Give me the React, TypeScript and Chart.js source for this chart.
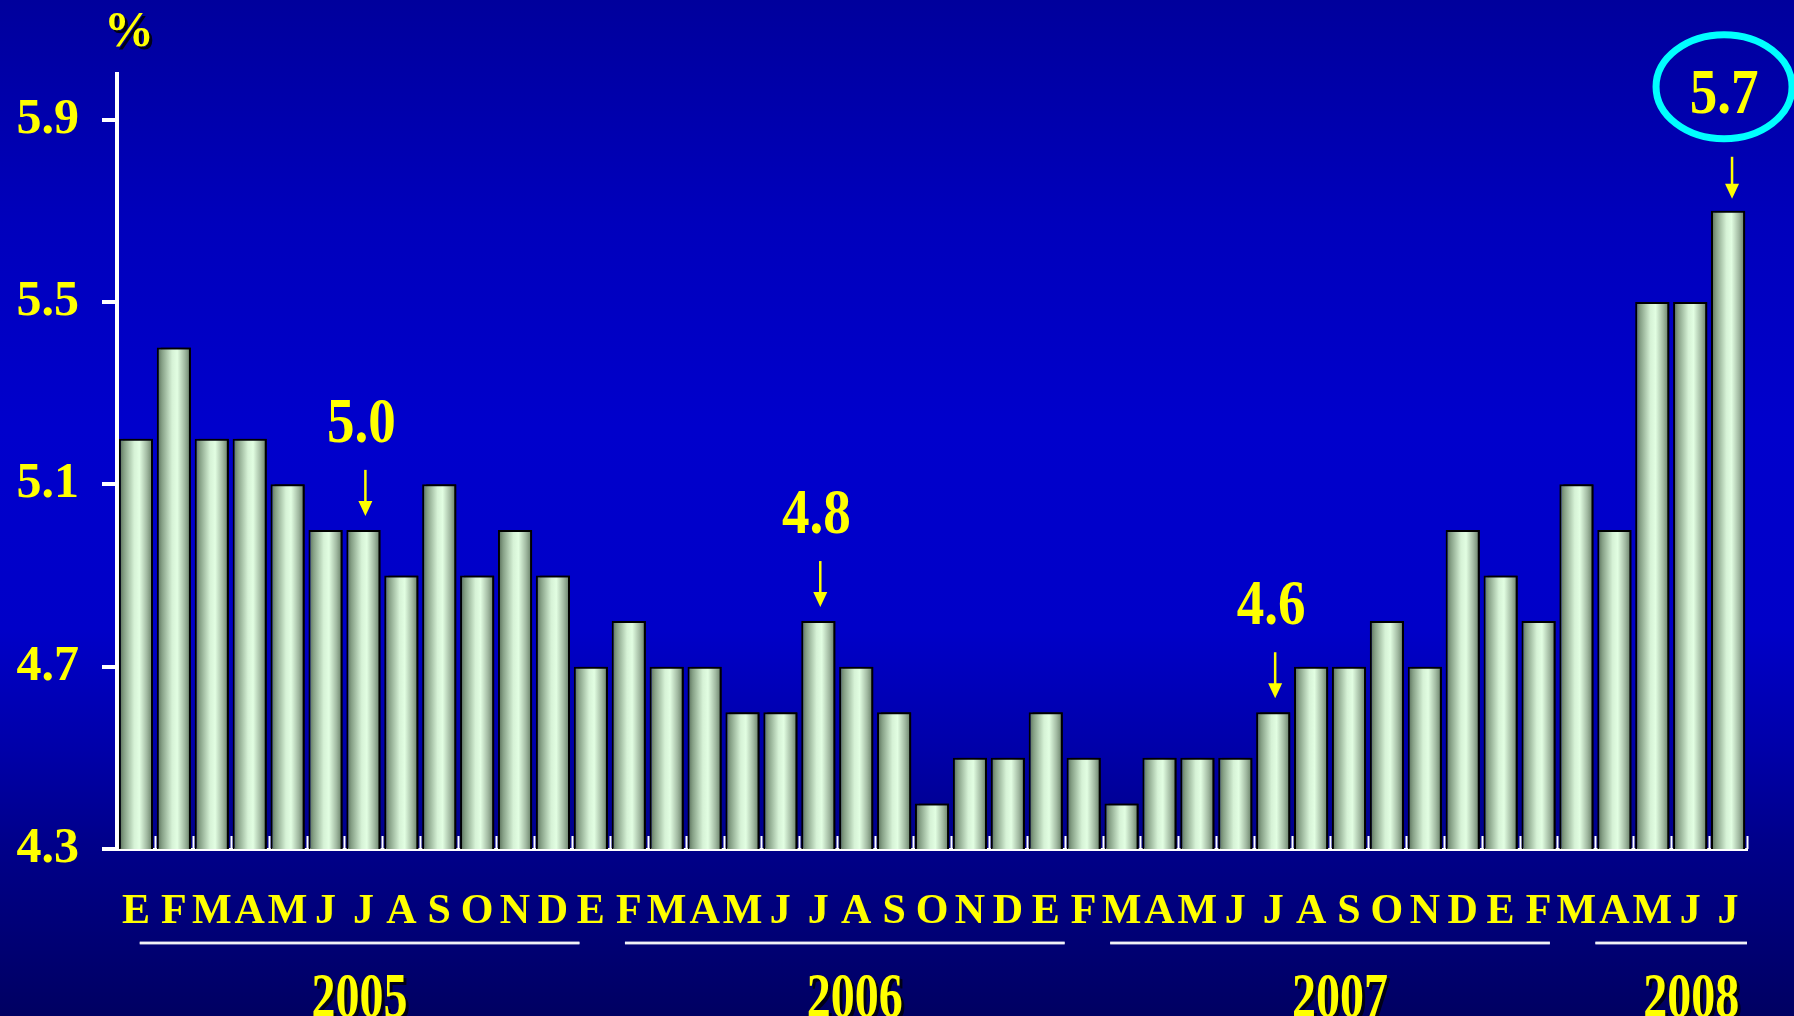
import { useEffect, useRef } from 'react';
import { Chart, registerables } from 'chart.js';

Chart.register(...registerables);

// ---------- data ----------
const months = [
  'E', 'F', 'M', 'A', 'M', 'J', 'J', 'A', 'S', 'O', 'N', 'D',
  'E', 'F', 'M', 'A', 'M', 'J', 'J', 'A', 'S', 'O', 'N', 'D',
  'E', 'F', 'M', 'A', 'M', 'J', 'J', 'A', 'S', 'O', 'N', 'D',
  'E', 'F', 'M', 'A', 'M', 'J', 'J',
];
const rates2005 = [5.2, 5.4, 5.2, 5.2, 5.1, 5.0, 5.0, 4.9, 5.1, 4.9, 5.0, 4.9];
const rates2006 = [4.7, 4.8, 4.7, 4.7, 4.6, 4.6, 4.8, 4.7, 4.6, 4.4, 4.5, 4.5];
const rates2007 = [4.6, 4.5, 4.4, 4.5, 4.5, 4.5, 4.6, 4.7, 4.7, 4.8, 4.7, 5.0];
const rates2008 = [4.9, 4.8, 5.1, 5.0, 5.5, 5.5, 5.7];
const rates = [...rates2005, ...rates2006, ...rates2007, ...rates2008];

const yTicks = [4.3, 4.7, 5.1, 5.5, 5.9];
const yMin = 4.3;
const yMax = 6.0;

const yearLabels = ['2005', '2006', '2007', '2008'];
const yearStarts = [0, 12, 24, 36];
const yearCounts = [12, 12, 12, 7];

const calloutIndices = [6, 18, 30];
const calloutLabels = ['5.0', '4.8', '4.6'];
const highlightIndex = 42;
const highlightLabel = '5.7';

const unitLabel = '%';

// ---------- styling ----------
const YELLOW = '#ffff00';
const SERIF = '"Liberation Serif", "Times New Roman", serif';
const BAR_PCT = 0.9;

function drawText(
  ctx: CanvasRenderingContext2D,
  text: string,
  x: number,
  y: number,
  size: number,
  sx: number,
  color: string,
  shadow: boolean
) {
  ctx.save();
  ctx.translate(x, y);
  ctx.scale(sx, 1);
  ctx.font = `bold ${size}px ${SERIF}`;
  ctx.textAlign = 'center';
  ctx.textBaseline = 'alphabetic';
  if (shadow) {
    ctx.fillStyle = '#000018';
    ctx.fillText(text, 3 / sx, 3);
  }
  ctx.fillStyle = color;
  ctx.fillText(text, 0, 0);
  ctx.restore();
}

function drawArrow(ctx: CanvasRenderingContext2D, x: number, y1: number, y2: number) {
  ctx.save();
  ctx.strokeStyle = YELLOW;
  ctx.fillStyle = YELLOW;
  ctx.lineWidth = 2.5;
  ctx.beginPath();
  ctx.moveTo(x, y1);
  ctx.lineTo(x, y2 - 12);
  ctx.stroke();
  ctx.beginPath();
  ctx.moveTo(x - 7, y2 - 15);
  ctx.lineTo(x + 7, y2 - 15);
  ctx.lineTo(x, y2);
  ctx.closePath();
  ctx.fill();
  ctx.restore();
}

const decorPlugin = {
  id: 'decor',
  beforeDatasetsDraw(chart: any) {
    const ctx = chart.ctx;
    ctx.save();
    ctx.shadowColor = '#000000';
    ctx.shadowOffsetX = 4;
    ctx.shadowOffsetY = 0;
    ctx.shadowBlur = 0;
  },
  afterDatasetsDraw(chart: any) {
    chart.ctx.restore();
  },
  afterDraw(chart: any) {
    const ctx: CanvasRenderingContext2D = chart.ctx;
    const xs = chart.scales.x;
    const ys = chart.scales.y;
    const area = chart.chartArea;
    const n = months.length;
    const catW = (area.right - area.left) / n;

    // inner tick marks at category boundaries
    ctx.save();
    ctx.strokeStyle = '#ffffff';
    ctx.lineWidth = 2;
    for (let i = 1; i <= n; i++) {
      const bx = Math.round(xs.getPixelForValue(i - 1) + catW / 2) + 0.5;
      ctx.beginPath();
      ctx.moveTo(bx, area.bottom);
      ctx.lineTo(bx, area.bottom - 13);
      ctx.stroke();
    }
    ctx.restore();

    // unit label
    drawText(ctx, unitLabel, area.left + 12, 46, 50, 1, YELLOW, true);

    // callouts with arrows
    calloutIndices.forEach((idx, k) => {
      const x = xs.getPixelForValue(idx);
      const top = ys.getPixelForValue(rates[idx]);
      drawArrow(ctx, x + 2, top - 60, top - 14);
      drawText(ctx, calloutLabels[k], x - 2, top - 88, 64, 0.86, YELLOW, false);
    });

    // highlighted last value
    {
      const x = xs.getPixelForValue(highlightIndex);
      const top = ys.getPixelForValue(rates[highlightIndex]);
      drawArrow(ctx, x + 4, top - 54, top - 12);
      ctx.save();
      ctx.strokeStyle = '#00ffff';
      ctx.lineWidth = 7;
      ctx.beginPath();
      ctx.ellipse(x - 4, top - 124, 68, 52, 0, 0, Math.PI * 2);
      ctx.stroke();
      ctx.restore();
      drawText(ctx, highlightLabel, x - 4, top - 98, 64, 0.86, YELLOW, false);
    }

    // year groups
    yearLabels.forEach((label, k) => {
      const s = yearStarts[k];
      const c = yearCounts[k];
      const drift = (s / 12) * 0.8;
      const u0 = s + 0.6 + drift;
      const u1 = Math.min(s + c + 0.2 + drift, n);
      const x0 = area.left + u0 * catW;
      const x1 = area.left + u1 * catW;
      ctx.save();
      ctx.strokeStyle = '#c8c8e0';
      ctx.lineWidth = 3;
      ctx.beginPath();
      ctx.moveTo(x0, 943);
      ctx.lineTo(x1, 943);
      ctx.stroke();
      ctx.strokeStyle = '#ffffff';
      ctx.lineWidth = 1.5;
      ctx.beginPath();
      ctx.moveTo(x0, 943);
      ctx.lineTo(x1, 943);
      ctx.stroke();
      ctx.restore();
      const shift = k === 0 ? 0 : k === 3 ? 20 : 10;
      drawText(ctx, label, (x0 + x1) / 2 + shift, 1017, 64, 0.75, YELLOW, true);
    });
  },
};

export default function App() {
  const canvasRef = useRef<HTMLCanvasElement | null>(null);

  useEffect(() => {
    document.body.style.margin = '0';
    const canvas = canvasRef.current;
    if (!canvas) return;

    const barFill = (c: any) => {
      if (c.type !== 'data') return '#d8f4d8';
      const chart = c.chart;
      const xs = chart.scales.x;
      const area = chart.chartArea;
      if (!xs || !area) return '#d8f4d8';
      const catW = (area.right - area.left) / months.length;
      const w = catW * BAR_PCT;
      const cx = xs.getPixelForValue(c.dataIndex);
      const g = chart.ctx.createLinearGradient(cx - w / 2, 0, cx + w / 2, 0);
      g.addColorStop(0, '#526852');
      g.addColorStop(0.15, '#86a086');
      g.addColorStop(0.45, '#d6f2d6');
      g.addColorStop(0.6, '#e2fee2');
      g.addColorStop(0.82, '#a2baa2');
      g.addColorStop(1, '#627a62');
      return g;
    };

    const chart = new Chart(canvas, {
      type: 'bar',
      data: {
        labels: months,
        datasets: [
          {
            data: rates,
            backgroundColor: barFill,
            borderColor: '#000000',
            borderWidth: 2,
            borderSkipped: 'start',
            barPercentage: BAR_PCT,
            categoryPercentage: 1,
          },
        ],
      },
      options: {
        animation: false,
        responsive: true,
        maintainAspectRatio: false,
        layout: { padding: { top: 74, right: 47, left: 0, bottom: 0 } },
        plugins: {
          legend: { display: false },
          tooltip: { enabled: false },
        },
        scales: {
          x: {
            z: 1,
            grid: { display: false },
            border: { display: true, color: '#ffffff', width: 3 },
            ticks: {
              color: YELLOW,
              font: { family: SERIF, weight: 'bold', size: 42 },
              maxRotation: 0,
              minRotation: 0,
              autoSkip: false,
              padding: 30,
            },
            afterFit(scale: any) {
              scale.height = 167;
            },
          },
          y: {
            z: 1,
            min: yMin,
            max: yMax,
            afterBuildTicks(scale: any) {
              scale.ticks = yTicks.map((v) => ({ value: v }));
            },
            grid: {
              drawOnChartArea: false,
              drawTicks: true,
              tickLength: 15,
              color: '#ffffff',
              lineWidth: 4,
            },
            border: { display: true, color: '#ffffff', width: 4 },
            ticks: {
              color: YELLOW,
              font: { family: SERIF, weight: 'bold', size: 50 },
              padding: 23,
              callback: (v: any) => Number(v).toFixed(1),
            },
            afterFit(scale: any) {
              scale.width = 117;
            },
          },
        },
      },
      plugins: [decorPlugin],
    });

    return () => {
      chart.destroy();
    };
  }, []);

  return (
    <div
      style={{
        width: 1794,
        height: 1016,
        position: 'relative',
        background:
          'linear-gradient(to bottom, #00009c 0%, #0000bc 22%, #0000cc 42%, #0000c8 62%, #0000a8 74%, #00008a 83%, #00007a 90%, #000062 100%)',
      }}
    >
      <canvas ref={canvasRef} />
    </div>
  );
}
